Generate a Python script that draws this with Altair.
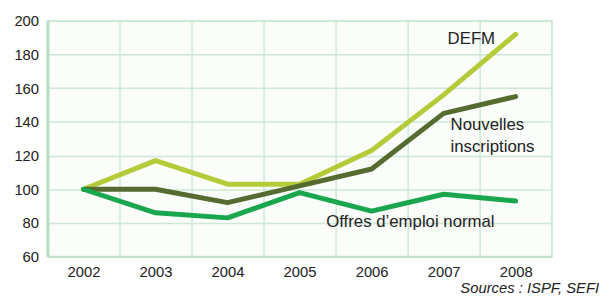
import altair as alt
import pandas as pd

years = ["2002", "2003", "2004", "2005", "2006", "2007", "2008"]
defm = [100, 117, 103, 103, 123, 156, 192]
nouvelles = [100, 100, 92, 102, 112, 145, 155]
offres = [100, 86, 83, 98, 87, 97, 93]

series_names = ["DEFM", "Nouvelles inscriptions", "Offres d'emploi normal"]
series_colors = ["#b6cb3a", "#566b2f", "#19a64e"]

rows = []
for name, vals in zip(series_names, [defm, nouvelles, offres]):
    for y, v in zip(years, vals):
        rows.append({"year": y, "value": v, "series": name})
df = pd.DataFrame(rows)

label_text = ["DEFM", "Nouvelles", "inscriptions", "Offres d\u2019emploi normal"]
label_year = ["2007", "2007", "2007", "2005"]
label_value = [186, 135, 122, 77.5]
label_dx = [4, 7, 7, 27]

W, H = 511, 239
grid_col = "#cfe8d6"

x = alt.X("year:O", sort=years, title=None,
          scale=alt.Scale(paddingInner=0, paddingOuter=0, domain=years),
          axis=alt.Axis(labelAngle=0, tickBand="extent", grid=True, gridColor=grid_col,
                        gridWidth=1.5, ticks=False, domain=True, domainColor="#bfe0c8",
                        domainWidth=2, labelFontSize=15, labelColor="#222222",
                        labelPadding=8, labelFont="Liberation Sans",
                        labelAlign="center"))
y = alt.Y("value:Q", title=None,
          scale=alt.Scale(domain=[60, 200], nice=False, zero=False),
          axis=alt.Axis(values=[60, 80, 100, 120, 140, 160, 180, 200], grid=True,
                        gridColor=grid_col, gridWidth=1.5, ticks=False, domain=True,
                        domainColor="#b9dec3", domainWidth=3, labelFontSize=15,
                        labelColor="#222222", labelPadding=9, labelOverlap=False,
                        labelFont="Liberation Sans"))

lines = alt.Chart(df).mark_line(strokeWidth=5, strokeCap="round", strokeJoin="round").encode(
    x=x, y=y,
    color=alt.Color("series:N", scale=alt.Scale(domain=series_names, range=series_colors),
                    legend=None),
    order=alt.Order("year:O"),
)

texts = []
for t, yr, v, d in zip(label_text, label_year, label_value, label_dx):
    sub = pd.DataFrame({"text": [t], "year": [yr], "value": [v]})
    texts.append(alt.Chart(sub).mark_text(align="left", baseline="alphabetic", dx=d,
                                          fontSize=17, font="Liberation Sans",
                                          color="#222222").encode(
        x=x, y=y, text="text:N"))

source = alt.Chart(pd.DataFrame({"t": ["Sources : ISPF, SEFI"]})).mark_text(
    align="right", baseline="alphabetic", fontSize=15, fontStyle="italic",
    font="Liberation Sans", color="#222222").encode(
    x=alt.value(W + 48), y=alt.value(H + 37), text="t:N")

chart = alt.layer(lines, *texts, source).properties(
    width=W, height=H,
    autosize=alt.AutoSizeParams(type="none"),
    padding={"left": 40, "top": 11, "right": 52, "bottom": 39},
).configure_view(stroke=grid_col, strokeWidth=1.5, fill="#fbfdfb")

chart.save("out.html", embed_options={"renderer": "svg", "actions": False})
